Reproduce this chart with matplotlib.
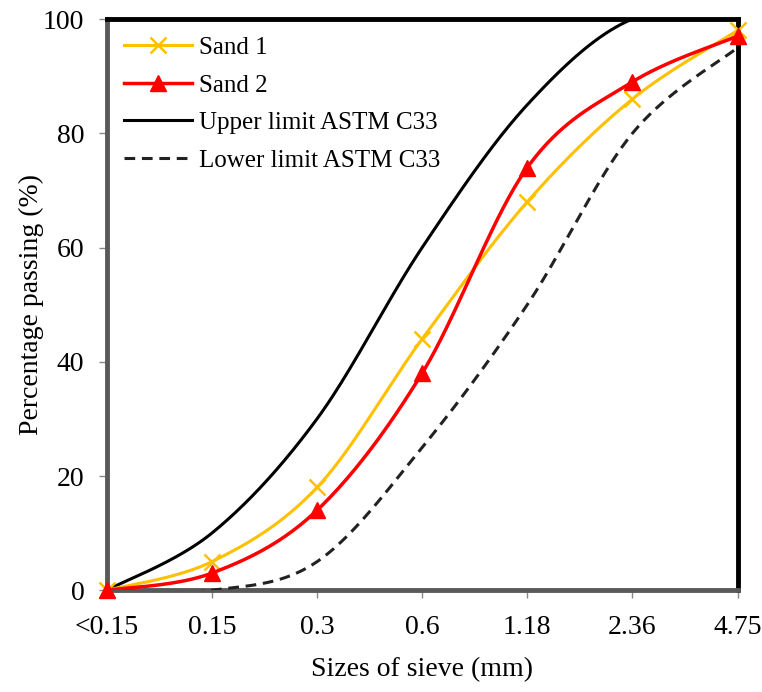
import numpy as np
import matplotlib
matplotlib.use("Agg")
import matplotlib.pyplot as plt
from matplotlib.lines import Line2D

plt.rcParams['font.family'] = ['Liberation Serif', 'DejaVu Serif']

sizes = ["<0.15", "0.15", "0.3", "0.6", "1.18", "2.36", "4.75"]
sand1 = [0, 5, 18, 44, 68, 86, 98]
sand2 = [0, 3, 14, 38, 74, 89, 97]
upper = [0, 10, 30, 60, 85, 100, 100]
lower = [0, 0, 5, 25, 50, 80, 95]


def smooth(xs, ys, n=40):
    P = np.column_stack([xs, ys]).astype(float)
    m = len(P)
    out = []
    for i in range(m - 1):
        p0 = P[i - 1] if i > 0 else P[i]
        p1 = P[i]
        p2 = P[i + 1]
        p3 = P[i + 2] if i + 2 < m else P[i + 1]
        c1 = p1 + (p2 - p0) / 6.0
        c2 = p2 - (p3 - p1) / 6.0
        t = np.linspace(0, 1, n)[:, None]
        seg = ((1 - t) ** 3) * p1 + 3 * ((1 - t) ** 2) * t * c1 + 3 * (1 - t) * t ** 2 * c2 + t ** 3 * p2
        if i > 0:
            seg = seg[1:]
        out.append(seg)
    out = np.vstack(out)
    return out[:, 0], out[:, 1]


fig = plt.figure(figsize=(7.62, 6.92), dpi=100)
ax = fig.add_axes([0.140, 0.147, 0.828, 0.8255])
x = np.arange(len(sizes))

yellow = '#FFC000'
red = '#FF0000'
dash = (0, (3.5, 2.2))

sx, sy = smooth(x, upper)
ax.plot(sx, sy, color='black', lw=2.2, zorder=3)
sx, sy = smooth(x, lower)
ax.plot(sx, sy, color='#222222', lw=2.2, ls=dash, zorder=3)

sx, sy = smooth(x, sand1)
ax.plot(sx, sy, color=yellow, lw=2.2, zorder=4)
ax.plot(x, sand1, ls='none', marker='x', ms=12, mew=1.8, color=yellow, zorder=5, clip_on=False)
sx, sy = smooth(x, sand2)
ax.plot(sx, sy, color=red, lw=2.5, zorder=6)
ax.plot(x, sand2, ls='none', marker='^', ms=12, color=red, zorder=7, clip_on=False)

handles = [
    Line2D([], [], color=yellow, lw=2.2, marker='x', ms=12, mew=1.8),
    Line2D([], [], color=red, lw=2.5, marker='^', ms=12),
    Line2D([], [], color='black', lw=2.2),
    Line2D([], [], color='#222222', lw=2.2, ls=dash),
]
labels = ['Sand 1', 'Sand 2', 'Upper limit ASTM C33', 'Lower limit ASTM C33']
ax.legend(handles, labels, loc='upper left', bbox_to_anchor=(0.0, 1.0), frameon=False,
          fontsize=18, handlelength=2.7, handletextpad=0.3, labelspacing=0.6,
          borderaxespad=0.3)

ax.set_xlim(0, 6)
ax.set_ylim(0, 100)
ax.set_xticks(x)
ax.set_xticklabels(sizes)
ax.set_yticks([0, 20, 40, 60, 80, 100])
ax.tick_params(axis='both', labelsize=20, length=6, width=1, color='#888888', direction='out', pad=10)
ax.tick_params(axis='x', pad=12)

for s in ['left', 'bottom']:
    ax.spines[s].set_color('#595959')
    ax.spines[s].set_linewidth(3.5)
for s in ['top', 'right']:
    ax.spines[s].set_color('black')
    ax.spines[s].set_linewidth(3.5)

ax.set_xlabel('Sizes of sieve (mm)', fontsize=20, labelpad=12)
ax.set_ylabel('Percentage passing (%)', fontsize=20, labelpad=-1)

fig.savefig('out.png', dpi=100)
